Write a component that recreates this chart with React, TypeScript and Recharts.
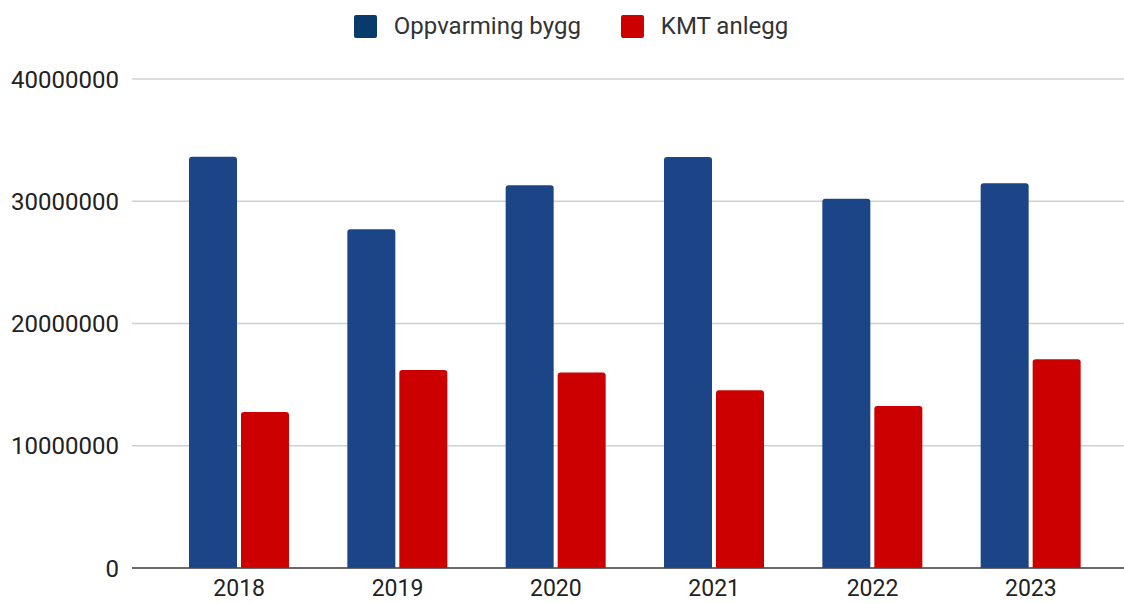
import React from 'react';
import { BarChart, Bar, XAxis, YAxis, CartesianGrid, Legend } from 'recharts';

const years = ['2018', '2019', '2020', '2021', '2022', '2023'];
const oppvarmingBygg = [33640000, 27700000, 31300000, 33620000, 30200000, 31470000];
const kmtAnlegg = [12760000, 16200000, 16000000, 14550000, 13250000, 17070000];
const yTicks = [0, 10000000, 20000000, 30000000, 40000000];

const data = years.map((y, i) => ({
  year: y,
  oppvarming: oppvarmingBygg[i],
  kmt: kmtAnlegg[i],
}));

const FONT = 'Roboto, "Liberation Sans", Arial, sans-serif';

const legendItems = [
  { label: 'Oppvarming bygg', color: '#083a6c' },
  { label: 'KMT anlegg', color: '#cc0000' },
];

const LegendContent = () => (
  <div
    style={{
      height: 40,
      width: 1124,
      display: 'flex',
      alignItems: 'center',
      justifyContent: 'center',
      paddingLeft: 18,
      boxSizing: 'border-box',
      fontFamily: FONT,
      fontSize: 24,
      color: '#333',
    }}
  >
    {legendItems.map((it, i) => (
      <div key={it.label} style={{ display: 'flex', alignItems: 'center', marginLeft: i === 0 ? 0 : 40 }}>
        <div style={{ width: 23, height: 23, background: it.color, borderRadius: 2, marginRight: 17 }} />
        <span>{it.label}</span>
      </div>
    ))}
  </div>
);

export default function App() {
  return (
    <div style={{ position: 'absolute', left: 0, top: 0, width: 1124, height: 604, background: '#fff' }}>
      <BarChart
        width={1124}
        height={604}
        data={data}
        margin={{ top: 39, right: 0, bottom: 0, left: 0 }}
        barSize={48}
        barGap={4}
      >
        <CartesianGrid vertical={false} stroke="#d0d0d0" strokeWidth={1.5} />
        <XAxis
          dataKey="year"
          height={36}
          padding={{ left: 28, right: 14 }}
          tickLine={false}
          axisLine={{ stroke: '#444', strokeWidth: 1.5 }}
          tickSize={6}
          tickMargin={6}
          tick={{ fill: '#222', fontSize: 23, fontFamily: FONT }}
        />
        <YAxis
          width={132}
          domain={[0, 40000000]}
          ticks={yTicks}
          interval={0}
          axisLine={false}
          tickLine={false}
          tickSize={6}
          tickMargin={7}
          tick={{ fill: '#222', fontSize: 24, fontFamily: FONT }}
        />
        <Legend
          verticalAlign="top"
          align="center"
          content={<LegendContent />}
          wrapperStyle={{ top: 6, left: 0, width: 1124, height: 40 }}
        />
        <Bar dataKey="oppvarming" name="Oppvarming bygg" fill="#1c4587" radius={[3, 3, 0, 0]} isAnimationActive={false} />
        <Bar dataKey="kmt" name="KMT anlegg" fill="#cc0000" radius={[3, 3, 0, 0]} isAnimationActive={false} />
      </BarChart>
    </div>
  );
}
